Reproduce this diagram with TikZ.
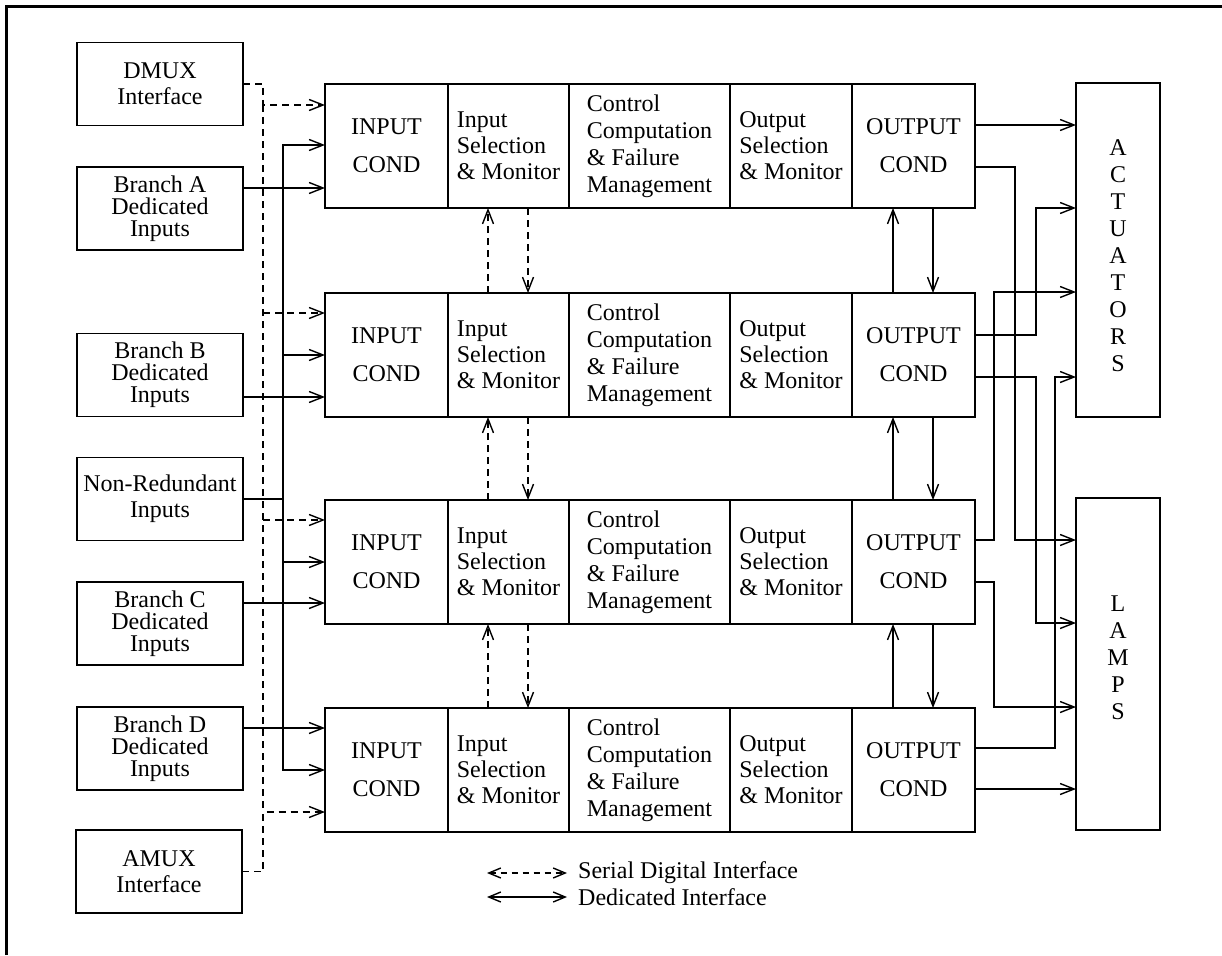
\documentclass[tikz,border=0pt]{standalone}
\usepackage{fontspec}
\setmainfont{Liberation Serif}
\usetikzlibrary{arrows.meta}
\begin{document}
\begin{tikzpicture}[x=1pt,y=-1pt,
  box/.style={draw,line width=1.6pt,inner sep=0pt,outer sep=0pt,font=\fontsize{24}{26}\selectfont},
  lbox/.style={box,minimum width=166pt,minimum height=83pt,align=center},
  tbox/.style={lbox,font=\fontsize{24}{22}\selectfont},
  ln/.style={line width=1.4pt},
  tip/.style={},
  arr/.style={ln,-{Straight Barb[length=14pt,width=11pt]}},
  dsh/.style={ln,dash pattern=on 7pt off 5pt},
  darr/.style={dsh,-{Straight Barb[length=14pt,width=11pt]}},
  txt/.style={font=\fontsize{24}{26}\selectfont,inner sep=0pt}
]
\useasboundingbox (0,0) rectangle (1222,955);
% frame
\draw[line width=3pt] (6.5,955) -- (6.5,6.5) -- (1222,6.5);

% left boxes
\node[lbox] (dmux) at (160,84) {DMUX\\Interface};
\node[tbox] (bra) at (160,208.5) {Branch A\\Dedicated\\Inputs};
\node[tbox] (brb) at (160,375) {Branch B\\Dedicated\\Inputs};
\node[lbox] (nonred) at (160,499) {Non-Redundant\\Inputs};
\node[tbox] (brc) at (160,623.5) {Branch C\\Dedicated\\Inputs};
\node[tbox] (brd) at (160,748.5) {Branch D\\Dedicated\\Inputs};
\node[lbox] (amux) at (159,871.5) {AMUX\\Interface};

% main rows
\foreach \r/\t in {1/84,2/293,3/500,4/708}{
  \pgfmathsetmacro\c{\t+62}
  \node[box,minimum width=123pt,minimum height=124pt,align=center] (ic\r) at (386.5,\c) {INPUT\\[12pt]COND};
  \node[box,minimum width=121pt,minimum height=124pt] (is\r) at (508.5,\c) {};
  \node[txt,align=left] (ist\r) at (is\r.center) {Input\\Selection\\\& Monitor};
  \node[box,minimum width=161pt,minimum height=124pt] (cc\r) at (649.5,\c) {};
  \node[txt,align=left,font=\fontsize{24}{27}\selectfont] (cct\r) at (cc\r.center) {Control\\Computation\\\& Failure\\Management};
  \node[box,minimum width=122pt,minimum height=124pt] (os\r) at (791,\c) {};
  \node[txt,align=left] (ost\r) at (os\r.center) {Output\\Selection\\\& Monitor};
  \node[box,minimum width=123pt,minimum height=124pt,align=center] (oc\r) at (913.5,\c) {OUTPUT\\[12pt]COND};
}

% actuators and lamps
\node[box,minimum width=84pt,minimum height=334pt] (act) at (1118,250) {};
\node[txt,align=center,font=\fontsize{24}{27}\selectfont] (actt) at (1118,256) {A\\C\\T\\U\\A\\T\\O\\R\\S};
\node[box,minimum width=84pt,minimum height=332pt] (lamps) at (1118,664) {};
\node[txt,align=center,font=\fontsize{24}{27}\selectfont] (lampst) at (1118,658) {L\\A\\M\\P\\S};

% dashed serial bus on the left
\coordinate (db) at (263,0);
\draw[darr] (dmux.east) -- (db |- dmux.east) -- (263,105) -- (ic1.west |- 0,105);
\draw[dsh] (263,105) -- (263,812);
\draw[darr] (amux.east) -- (db |- amux.east) -- (263,812) -- (ic4.west |- 0,812);
\draw[darr] (263,313) -- (ic2.west |- 0,313);
\draw[darr] (263,520) -- (ic3.west |- 0,520);

% solid bus
\coordinate (sb) at (283,0);
\draw[ln] (nonred.east) -- (sb |- nonred.east);
\draw[arr] (sb |- nonred.east) -- (283,145) -- (ic1.west |- 0,145);
\draw[arr] (sb |- nonred.east) -- (283,770) -- (ic4.west |- 0,770);
\draw[arr] (283,355) -- (ic2.west |- 0,355);
\draw[arr] (283,562) -- (ic3.west |- 0,562);

% branch inputs
\draw[arr] (bra.east |- 0,188) -- (ic1.west |- 0,188);
\draw[arr] (brb.east |- 0,397) -- (ic2.west |- 0,397);
\draw[arr] (brc.east |- 0,603) -- (ic3.west |- 0,603);
\draw[arr] (brd.east |- 0,728) -- (ic4.west |- 0,728);

% inter-row links
\foreach \a/\b in {1/2,2/3,3/4}{
  \draw[darr] (is\b.north -| 488,0) -- (is\a.south -| 488,0);
  \draw[darr] (is\a.south -| 528,0) -- (is\b.north -| 528,0);
  \draw[arr] (oc\b.north -| 893,0) -- (oc\a.south -| 893,0);
  \draw[arr] (oc\a.south -| 933,0) -- (oc\b.north -| 933,0);
}

% outputs
\draw[arr] (oc1.east |- 0,125) -- (act.west |- 0,125);
\draw[arr] (oc1.east |- 0,167) -- (1015,167) -- (1015,540) -- (lamps.west |- 0,540);
\draw[arr] (oc2.east |- 0,335) -- (1036,335) -- (1036,208) -- (act.west |- 0,208);
\draw[arr] (oc2.east |- 0,377) -- (1036,377) -- (1036,623) -- (lamps.west |- 0,623);
\draw[arr] (oc3.east |- 0,540) -- (994,540) -- (994,292) -- (act.west |- 0,292);
\draw[arr] (oc3.east |- 0,582) -- (994,582) -- (994,707) -- (lamps.west |- 0,707);
\draw[arr] (oc4.east |- 0,748) -- (1055,748) -- (1055,377) -- (act.west |- 0,377);
\draw[arr] (oc4.east |- 0,789) -- (lamps.west |- 0,789);

% legend
\coordinate (l1a) at (487,873);
\coordinate (l1b) at (567,873);
\coordinate (l2a) at (487,897);
\coordinate (l2b) at (567,897);
\draw[dsh,dash pattern=on 6pt off 5pt,{Straight Barb[length=12pt,width=10pt]}-{Straight Barb[length=12pt,width=10pt]}] (l1a) -- (l1b);
\draw[ln,{Straight Barb[length=12pt,width=10pt]}-{Straight Barb[length=12pt,width=10pt]}] (l2a) -- (l2b);
\node[txt,anchor=west] (leg1) at (578,873) {Serial Digital Interface};
\node[txt,anchor=west] (leg2) at (578,897) {Dedicated Interface};
\end{tikzpicture}
\end{document}
